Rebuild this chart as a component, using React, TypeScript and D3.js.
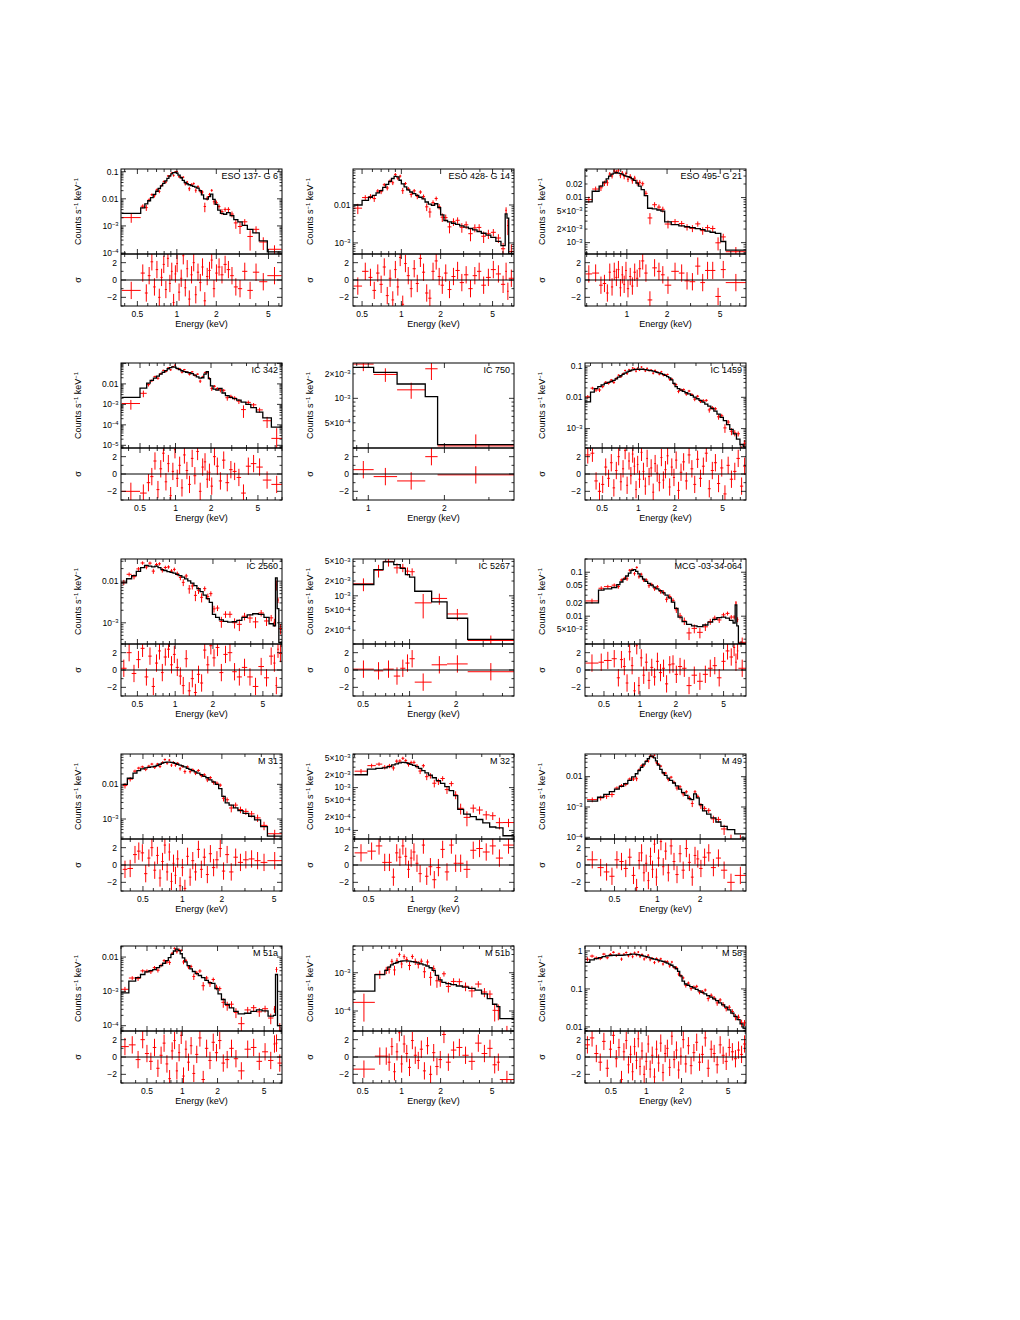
import React from 'react';
import * as d3 from 'd3';

// Spectra: bin edges (keV), folded model (counts/s/keV), residual (sigma), 1-sigma error (% of model)

// ESO 137-G6
const eso137Edges = [0.38, 0.53, 0.57, 0.60, 0.63, 0.66, 0.69, 0.72, 0.75, 0.78, 0.81, 0.84, 0.87, 0.90, 0.93, 0.96, 0.99, 1.02, 1.06, 1.10, 1.14, 1.18, 1.22, 1.27, 1.32, 1.37, 1.42, 1.48, 1.54, 1.60, 1.67, 1.74, 1.81, 1.88, 1.96, 2.05, 2.15, 2.27, 2.40, 2.55, 2.72, 2.92, 3.15, 3.45, 3.80, 4.25, 4.90, 6.30];
const eso137Model = [2.9e-3, 4.6e-3, 6.5e-3, 8.5e-3, 0.011, 0.0145, 0.019, 0.024, 0.030, 0.037, 0.046, 0.057, 0.070, 0.083, 0.092, 0.094, 0.088, 0.075, 0.060, 0.048, 0.040, 0.036, 0.033, 0.031, 0.029, 0.027, 0.025, 0.020, 0.014, 0.010, 0.0098, 0.012, 0.015, 0.0095, 6.2e-3, 3.8e-3, 2.9e-3, 2.7e-3, 3.1e-3, 2.4e-3, 1.7e-3, 1.4e-3, 1.05e-3, 7.5e-4, 5.5e-4, 2.8e-4, 1.1e-4];
const eso137Resid = [-1.2, 0.8, -1.5, 0.5, 2.1, -0.8, 1.2, -2.0, 0.3, 1.8, -1.1, 2.5, -0.4, 1.0, -2.6, 0.7, 1.9, -1.4, 0.2, 2.8, -0.9, 1.3, -2.2, 0.6, 2.0, -1.7, 0.9, -0.3, 1.5, -2.4, 0.4, 1.1, 2.3, -1.0, 0.8, 1.5, 0.6, 1.8, 1.2, 0.5, -0.8, -1.0, 1.0, -1.2, 0.9, -0.2, 0.5];
const eso137Err = [25, 20, 18, 15, 14, 13, 12, 11, 10, 10, 9, 9, 8, 8, 8, 8, 8, 9, 10, 11, 12, 12, 13, 13, 13, 14, 14, 15, 18, 20, 20, 18, 16, 18, 22, 25, 28, 28, 26, 28, 30, 32, 35, 38, 40, 45, 50];

// ESO 428-G14
const eso428Edges = [0.43, 0.50, 0.56, 0.60, 0.64, 0.68, 0.72, 0.76, 0.80, 0.84, 0.88, 0.92, 0.96, 1.00, 1.05, 1.10, 1.16, 1.22, 1.29, 1.36, 1.44, 1.52, 1.61, 1.70, 1.80, 1.90, 2.00, 2.12, 2.26, 2.42, 2.60, 2.80, 3.02, 3.26, 3.52, 3.80, 4.10, 4.45, 4.85, 5.30, 5.80, 6.25, 6.45, 6.65, 7.30];
const eso428Model = [0.010, 0.0133, 0.016, 0.018, 0.021, 0.024, 0.029, 0.035, 0.042, 0.050, 0.057, 0.055, 0.045, 0.036, 0.030, 0.025, 0.022, 0.020, 0.018, 0.016, 0.0145, 0.012, 0.0105, 0.0098, 0.0108, 0.0085, 5.5e-3, 3.9e-3, 3.6e-3, 3.3e-3, 3.1e-3, 2.8e-3, 2.6e-3, 2.4e-3, 2.2e-3, 2.0e-3, 1.8e-3, 1.6e-3, 1.4e-3, 1.1e-3, 8.5e-4, 5.8e-3, 4.5e-3, 5.3e-4];
const eso428Resid = [-0.7, 1.0, 0.3, -1.2, 0.8, -0.5, 1.5, -1.8, 0.2, -2.3, 1.2, -0.8, 2.6, -2.8, 1.9, 0.5, -1.0, 1.3, -0.4, 2.5, 0.9, -1.5, -2.1, 1.0, 2.2, 0.4, -0.6, 0.8, -1.1, 0.4, 1.1, -0.3, 0.6, -1.0, 0.5, 1.0, -0.6, 0.3, 1.2, 0.7, -0.5, 1.0, -1.3, 0.2];
const eso428Err = [25, 18, 16, 15, 14, 13, 12, 11, 11, 10, 10, 10, 11, 12, 12, 13, 14, 14, 15, 15, 16, 17, 18, 18, 17, 18, 22, 24, 24, 25, 25, 26, 26, 27, 27, 28, 28, 30, 30, 32, 35, 25, 28, 60];

// ESO 495-G21
const eso495Edges = [0.49, 0.55, 0.62, 0.66, 0.70, 0.73, 0.76, 0.79, 0.82, 0.85, 0.88, 0.91, 0.94, 0.97, 1.00, 1.04, 1.08, 1.12, 1.17, 1.22, 1.28, 1.35, 1.43, 1.55, 1.68, 1.80, 1.92, 2.15, 2.45, 2.70, 2.95, 3.25, 3.55, 3.85, 4.20, 4.60, 5.05, 5.50, 7.80];
const eso495Model = [8.0e-3, 0.0138, 0.018, 0.022, 0.026, 0.030, 0.033, 0.035, 0.036, 0.035, 0.034, 0.033, 0.031, 0.030, 0.029, 0.028, 0.026, 0.024, 0.021, 0.018, 0.015, 0.011, 5.8e-3, 5.6e-3, 5.3e-3, 5.0e-3, 2.9e-3, 2.5e-3, 2.35e-3, 2.25e-3, 2.15e-3, 2.05e-3, 1.95e-3, 1.8e-3, 1.7e-3, 1.6e-3, 1.06e-3, 6.8e-4];
const eso495Resid = [0.7, 0.8, -0.6, -0.4, -1.5, 0.9, -0.8, 1.0, 0.3, 1.2, -0.9, 0.6, -0.5, 1.1, -1.0, 0.4, -0.7, 0.9, 0.2, 1.3, 2.2, 0.8, -2.3, 1.4, 1.0, 0.6, -0.6, 1.0, 0.8, -0.1, -0.2, 1.6, -0.3, 1.1, 1.1, -1.9, 1.2, -0.3];
const eso495Err = [18, 15, 14, 13, 12, 12, 11, 11, 11, 11, 11, 11, 12, 12, 12, 13, 13, 14, 15, 16, 16, 16, 17, 17, 16, 16, 18, 17, 16, 16, 17, 17, 18, 18, 19, 20, 22, 25];

// IC 342
const ic342Edges = [0.35, 0.50, 0.57, 0.61, 0.65, 0.69, 0.73, 0.77, 0.81, 0.85, 0.89, 0.93, 0.97, 1.01, 1.06, 1.11, 1.16, 1.22, 1.28, 1.35, 1.42, 1.50, 1.58, 1.66, 1.74, 1.82, 1.90, 1.98, 2.08, 2.20, 2.33, 2.48, 2.65, 2.85, 3.05, 3.30, 3.60, 3.95, 4.35, 4.85, 5.50, 6.50, 8.00];
const ic342Model = [2.2e-3, 6.2e-3, 0.011, 0.015, 0.019, 0.024, 0.030, 0.037, 0.045, 0.055, 0.063, 0.068, 0.066, 0.058, 0.050, 0.044, 0.040, 0.037, 0.035, 0.032, 0.027, 0.022, 0.019, 0.020, 0.030, 0.040, 0.018, 8.0e-3, 5.5e-3, 5.0e-3, 6.0e-3, 3.6e-3, 2.7e-3, 2.2e-3, 1.9e-3, 1.6e-3, 1.3e-3, 1.0e-3, 7.0e-4, 4.2e-4, 2.2e-4, 7.8e-5];
const ic342Resid = [-2.0, -2.2, -1.0, -0.3, 1.5, -1.8, 0.6, 2.4, -0.9, 1.2, -2.5, 0.3, 2.8, -0.5, 1.0, -1.6, 2.2, 0.4, -1.2, 1.8, -0.2, 2.6, -2.0, 0.8, 1.4, -0.6, 0.2, -1.4, 2.0, 0.9, -0.8, 1.6, -1.0, 0.5, 0.3, -0.4, -2.2, 0.9, 1.2, 0.8, -0.7, -1.2];
const ic342Err = [25, 20, 16, 14, 13, 12, 11, 10, 10, 9, 9, 9, 9, 9, 10, 10, 11, 11, 12, 12, 13, 14, 14, 14, 13, 12, 15, 18, 20, 20, 20, 22, 22, 23, 24, 25, 26, 28, 30, 35, 40, 60];

// IC 750
const ic750Edges = [0.87, 1.05, 1.30, 1.68, 1.88, 3.77];
const ic750Model = [2.4e-3, 2.08e-3, 1.5e-3, 1.05e-3, 2.7e-4];
const ic750Resid = [0.5, -0.3, -0.8, 2.0, -0.1];
const ic750Err = [20, 18, 19, 60, 37];

// IC 1459
const ic1459Edges = [0.36, 0.40, 0.43, 0.46, 0.49, 0.52, 0.55, 0.58, 0.61, 0.64, 0.67, 0.70, 0.73, 0.76, 0.79, 0.82, 0.85, 0.88, 0.91, 0.94, 0.97, 1.00, 1.04, 1.08, 1.12, 1.16, 1.20, 1.25, 1.30, 1.35, 1.40, 1.46, 1.52, 1.58, 1.64, 1.71, 1.78, 1.85, 1.93, 2.01, 2.10, 2.20, 2.31, 2.43, 2.56, 2.70, 2.85, 3.01, 3.18, 3.36, 3.55, 3.76, 3.98, 4.22, 4.48, 4.76, 5.06, 5.38, 5.72, 6.10, 6.50, 6.95, 7.40, 7.80];
const ic1459Model = [7.2e-3, 0.0147, 0.019, 0.022, 0.025, 0.028, 0.030, 0.032, 0.035, 0.039, 0.044, 0.049, 0.054, 0.059, 0.064, 0.068, 0.072, 0.075, 0.077, 0.078, 0.079, 0.079, 0.079, 0.078, 0.077, 0.075, 0.073, 0.071, 0.069, 0.066, 0.063, 0.060, 0.057, 0.054, 0.050, 0.046, 0.042, 0.036, 0.028, 0.022, 0.019, 0.017, 0.0155, 0.014, 0.0128, 0.0115, 0.0102, 9.0e-3, 8.0e-3, 7.0e-3, 6.1e-3, 5.2e-3, 4.4e-3, 3.6e-3, 2.9e-3, 2.3e-3, 1.8e-3, 1.35e-3, 9.5e-4, 6.8e-4, 4.6e-4, 3.1e-4, 2.6e-4];
const ic1459Resid = [2.2, 2.4, -0.8, -2.0, -1.2, 0.8, -0.5, 1.3, -1.6, 0.4, 2.0, -0.9, 0.6, 2.7, -1.3, 1.5, -0.2, 2.3, 0.9, -1.8, 1.1, -0.6, 2.5, 0.3, -1.4, 1.8, -0.3, 0.7, -2.1, 1.2, 0.1, -1.0, 1.9, -0.7, 0.5, 2.1, -1.5, 0.8, -0.4, 1.6, -1.9, 0.2, 1.4, -0.8, 2.2, 0.6, -1.2, 1.7, -0.5, 0.9, 2.4, -1.7, 0.4, 1.3, -1.1, 0.7, -2.3, 1.0, -0.6, 0.3, 1.8, -1.4, 0.9];
const ic1459Err = [20, 14, 12, 11, 10, 10, 10, 9, 9, 9, 8, 8, 8, 8, 8, 8, 7, 7, 7, 7, 7, 7, 7, 7, 7, 7, 7, 7, 7, 8, 8, 8, 8, 8, 8, 8, 8, 9, 9, 10, 10, 10, 10, 11, 11, 11, 12, 12, 12, 13, 13, 14, 14, 15, 16, 17, 18, 20, 22, 24, 27, 30, 35];

// IC 2560
const ic2560Edges = [0.37, 0.41, 0.45, 0.49, 0.53, 0.57, 0.61, 0.65, 0.69, 0.73, 0.77, 0.81, 0.86, 0.91, 0.96, 1.01, 1.07, 1.13, 1.19, 1.26, 1.33, 1.41, 1.49, 1.58, 1.67, 1.77, 1.87, 1.98, 2.10, 2.25, 2.42, 2.62, 2.85, 3.10, 3.40, 3.75, 4.15, 4.60, 5.10, 5.60, 6.05, 6.30, 6.50, 6.70, 7.10];
const ic2560Model = [9.1e-3, 0.0114, 0.0135, 0.0172, 0.021, 0.024, 0.023, 0.022, 0.023, 0.021, 0.019, 0.018, 0.017, 0.0163, 0.0155, 0.0145, 0.0135, 0.0125, 0.0113, 0.0102, 9.0e-3, 7.8e-3, 6.6e-3, 5.6e-3, 4.6e-3, 3.8e-3, 3.1e-3, 1.6e-3, 1.35e-3, 1.17e-3, 1.08e-3, 1.04e-3, 1.06e-3, 1.15e-3, 1.35e-3, 1.55e-3, 1.65e-3, 1.6e-3, 1.35e-3, 9.5e-4, 8.5e-4, 0.012, 2.2e-3, 3.4e-4];
const ic2560Resid = [0.2, 2.0, -0.4, 1.2, 2.5, -0.8, 1.6, -1.9, 0.8, 2.2, -0.3, 1.5, 2.4, 0.6, 1.8, 0.3, -0.7, -1.8, 1.3, -2.4, -1.0, -2.6, -0.5, -1.5, 2.3, 0.6, 2.8, 1.4, 2.6, -0.3, 1.8, 2.0, -0.2, -0.8, 0.3, -0.8, -1.9, 0.4, -0.9, 1.6, 0.8, -1.8, 2.4, 1.9];
const ic2560Err = [15, 14, 13, 12, 12, 11, 11, 11, 11, 11, 12, 12, 12, 12, 13, 13, 13, 14, 14, 15, 15, 16, 17, 18, 19, 20, 22, 25, 26, 27, 27, 27, 26, 25, 22, 20, 19, 19, 20, 24, 26, 18, 25, 60];

// IC 5267
const ic5267Edges = [0.43, 0.587, 0.675, 0.79, 0.87, 0.94, 1.0, 1.08, 1.39, 1.75, 2.38, 4.75];
const ic5267Model = [1.7e-3, 3.4e-3, 4.9e-3, 4.3e-3, 3.6e-3, 2.7e-3, 2.4e-3, 1.24e-3, 7.5e-4, 3.5e-4, 1.3e-4];
const ic5267Resid = [0.1, -0.1, 0.1, -0.7, 0.2, 0.8, 1.3, -1.4, 0.6, 0.7, -0.2];
const ic5267Err = [30, 28, 22, 20, 20, 22, 22, 30, 30, 32, 25];

// MCG -03-34-064
const mcgEdges = [0.35, 0.45, 0.50, 0.58, 0.64, 0.68, 0.72, 0.76, 0.80, 0.84, 0.88, 0.92, 0.96, 1.00, 1.05, 1.10, 1.16, 1.22, 1.29, 1.36, 1.44, 1.53, 1.62, 1.72, 1.83, 1.95, 2.08, 2.25, 2.45, 2.70, 3.00, 3.35, 3.70, 4.05, 4.40, 4.80, 5.20, 5.60, 6.00, 6.25, 6.45, 6.65, 7.70];
const mcgModel = [0.020, 0.039, 0.042, 0.045, 0.052, 0.060, 0.070, 0.082, 0.095, 0.110, 0.115, 0.105, 0.092, 0.080, 0.070, 0.062, 0.056, 0.051, 0.046, 0.042, 0.038, 0.034, 0.030, 0.026, 0.021, 0.015, 9.5e-3, 7.5e-3, 6.5e-3, 6.0e-3, 5.8e-3, 6.3e-3, 7.3e-3, 8.5e-3, 9.3e-3, 9.5e-3, 9.0e-3, 8.0e-3, 7.0e-3, 0.018, 6.0e-3, 2.4e-3];
const mcgResid = [0.8, 0.9, 1.1, 1.3, -0.9, 1.2, 0.4, -1.5, 2.1, 0.5, -2.4, 2.8, -1.8, 1.4, -0.6, 0.9, -1.2, 0.3, -0.8, 1.0, -0.3, 0.2, -1.6, 0.6, 0.7, -0.5, 0.4, 0.2, -1.8, -0.6, -1.3, -0.5, 0.2, 0.5, -0.9, 1.0, 2.2, 1.5, 2.6, 0.9, 2.2, 0.2];
const mcgErr = [14, 12, 11, 10, 10, 9, 9, 9, 8, 8, 8, 8, 8, 9, 9, 9, 10, 10, 10, 11, 11, 12, 12, 13, 13, 14, 18, 20, 20, 20, 20, 18, 16, 14, 13, 13, 13, 13, 14, 12, 18, 30];

// M 31
const m31Edges = [0.35, 0.38, 0.42, 0.45, 0.48, 0.51, 0.54, 0.57, 0.60, 0.63, 0.66, 0.69, 0.72, 0.75, 0.78, 0.81, 0.84, 0.87, 0.90, 0.94, 0.98, 1.02, 1.07, 1.12, 1.17, 1.23, 1.29, 1.36, 1.43, 1.51, 1.59, 1.68, 1.78, 1.89, 2.00, 2.12, 2.27, 2.45, 2.65, 2.90, 3.20, 3.55, 3.95, 4.45, 5.75];
const m31Model = [0.0100, 0.0150, 0.021, 0.025, 0.028, 0.030, 0.031, 0.032, 0.033, 0.035, 0.038, 0.041, 0.043, 0.044, 0.044, 0.043, 0.042, 0.040, 0.038, 0.036, 0.034, 0.032, 0.029, 0.027, 0.025, 0.023, 0.021, 0.019, 0.017, 0.0155, 0.0135, 0.0118, 0.0100, 7.5e-3, 4.5e-3, 2.9e-3, 2.5e-3, 2.1e-3, 1.75e-3, 1.45e-3, 1.2e-3, 9.5e-4, 6.0e-4, 3.2e-4];
const m31Resid = [-0.5, -0.4, 1.2, 1.6, 1.4, -1.0, 0.8, 2.0, -0.6, 1.1, -1.5, 0.4, 2.3, -0.8, 1.5, -1.9, 0.2, -1.2, 0.7, -2.4, -0.3, -2.7, 1.0, -1.4, 0.5, -0.8, 1.8, -0.5, 0.9, -1.1, 1.3, -0.3, 0.6, 1.9, -0.7, 1.2, -0.8, 0.9, 0.3, 0.6, 0.7, 0.5, 0.3, 0.5];
const m31Err = [16, 14, 12, 11, 10, 10, 10, 10, 10, 9, 9, 9, 9, 9, 9, 9, 9, 9, 9, 9, 9, 10, 10, 10, 10, 11, 11, 11, 12, 12, 12, 13, 13, 14, 17, 20, 21, 22, 23, 24, 25, 27, 30, 35];

// M 32
const m32Edges = [0.40, 0.49, 0.56, 0.62, 0.67, 0.72, 0.76, 0.80, 0.84, 0.88, 0.92, 0.96, 1.00, 1.05, 1.10, 1.16, 1.22, 1.29, 1.37, 1.46, 1.56, 1.67, 1.79, 1.92, 2.05, 2.25, 2.50, 2.75, 3.05, 3.40, 3.75, 4.20, 5.00];
const m32Model = [2.0e-3, 2.7e-3, 2.8e-3, 2.9e-3, 3.1e-3, 3.4e-3, 3.6e-3, 3.8e-3, 3.9e-3, 3.85e-3, 3.7e-3, 3.5e-3, 3.3e-3, 3.1e-3, 2.8e-3, 2.5e-3, 2.2e-3, 1.95e-3, 1.7e-3, 1.45e-3, 1.25e-3, 1.05e-3, 8.5e-4, 6.5e-4, 3.1e-4, 2.4e-4, 2.1e-4, 1.8e-4, 1.5e-4, 1.2e-4, 1.15e-4, 7.5e-5];
const m32Resid = [1.4, 1.6, 2.2, 0.3, 0.3, -1.4, 1.4, 0.9, 2.2, 1.0, -0.5, 0.8, 1.5, 0.2, -1.0, 2.3, -1.3, -0.2, -1.7, -0.3, 1.8, -0.8, 2.3, 0.2, 0.2, -0.5, 1.7, 1.9, 1.5, 2.2, 0.8, 2.3];
const m32Err = [15, 13, 12, 12, 12, 11, 11, 11, 11, 11, 11, 12, 12, 12, 13, 13, 14, 14, 15, 16, 17, 18, 20, 22, 30, 32, 34, 35, 36, 38, 40, 45];

// M 49
const m49Edges = [0.32, 0.38, 0.42, 0.46, 0.50, 0.54, 0.58, 0.62, 0.66, 0.70, 0.73, 0.76, 0.79, 0.82, 0.85, 0.88, 0.91, 0.94, 0.97, 1.00, 1.04, 1.08, 1.12, 1.17, 1.22, 1.28, 1.34, 1.41, 1.48, 1.56, 1.64, 1.72, 1.80, 1.88, 1.97, 2.08, 2.22, 2.38, 2.58, 2.80, 3.10, 3.50, 4.20];
const m49Model = [1.56e-3, 2.1e-3, 2.6e-3, 3.2e-3, 3.9e-3, 4.8e-3, 5.9e-3, 7.5e-3, 9.8e-3, 0.0125, 0.0160, 0.0205, 0.026, 0.032, 0.039, 0.046, 0.048, 0.042, 0.033, 0.024, 0.0175, 0.0135, 0.0110, 9.0e-3, 7.5e-3, 6.2e-3, 5.0e-3, 3.9e-3, 3.0e-3, 2.4e-3, 1.9e-3, 1.75e-3, 2.7e-3, 2.0e-3, 1.2e-3, 7.5e-4, 5.8e-4, 4.4e-4, 3.2e-4, 2.3e-4, 1.8e-4, 1.3e-4];
const m49Resid = [0.6, -0.3, -0.8, -1.3, 0.6, 0.4, -0.4, 0.9, -1.2, -2.6, 0.5, 1.4, -0.9, 0.2, -1.8, 1.0, -0.5, 2.4, -1.4, 0.8, 2.7, -0.2, 1.6, -0.9, 2.2, 0.4, -1.1, 1.3, -0.6, 1.9, 0.3, -1.4, 1.1, 0.7, -0.4, 0.9, 1.4, -0.3, 0.8, -0.6, -2.0, -1.2];
const m49Err = [20, 17, 16, 15, 14, 14, 13, 13, 12, 12, 11, 10, 10, 9, 9, 9, 9, 9, 9, 10, 10, 11, 12, 12, 13, 13, 14, 15, 16, 17, 18, 18, 16, 17, 20, 22, 24, 25, 27, 30, 32, 35];

// M 51a
const m51aEdges = [0.30, 0.35, 0.40, 0.44, 0.48, 0.52, 0.56, 0.60, 0.64, 0.68, 0.72, 0.76, 0.80, 0.84, 0.88, 0.92, 0.96, 1.00, 1.05, 1.10, 1.16, 1.22, 1.29, 1.37, 1.46, 1.56, 1.67, 1.78, 1.90, 2.02, 2.16, 2.32, 2.52, 2.75, 3.00, 3.40, 3.85, 4.30, 4.80, 5.40, 6.00, 6.25, 6.50, 7.10];
const m51aModel = [9.1e-4, 2.0e-3, 2.5e-3, 3.1e-3, 3.7e-3, 4.0e-3, 4.3e-3, 4.9e-3, 5.6e-3, 6.6e-3, 7.9e-3, 9.6e-3, 0.0120, 0.0150, 0.0170, 0.0155, 0.0125, 9.5e-3, 7.2e-3, 5.6e-3, 4.5e-3, 3.8e-3, 3.3e-3, 2.9e-3, 2.5e-3, 2.1e-3, 1.8e-3, 1.7e-3, 1.2e-3, 8.5e-4, 5.8e-4, 4.2e-4, 3.3e-4, 2.6e-4, 2.2e-4, 2.3e-4, 2.6e-4, 2.9e-4, 2.7e-4, 1.9e-4, 2.0e-4, 3.1e-3, 1.0e-4];
const m51aResid = [1.2, 1.4, -0.3, 2.0, 0.4, -0.5, 1.1, -1.3, 0.2, 1.6, -0.8, -2.5, 0.7, 1.9, -1.6, 0.5, 2.5, -2.2, 0.9, -0.6, 1.3, -1.9, 0.3, 2.2, -2.6, 1.0, -0.4, 1.7, 0.5, 1.9, -0.7, -0.3, 1.0, -0.2, -1.6, 0.9, 1.1, -0.5, 0.6, -0.4, 1.5, 1.6, -0.7];
const m51aErr = [22, 16, 15, 14, 13, 13, 13, 12, 12, 12, 11, 11, 10, 10, 10, 10, 10, 11, 12, 13, 14, 15, 15, 16, 16, 17, 18, 18, 20, 22, 25, 27, 28, 30, 30, 28, 26, 25, 26, 30, 35, 25, 60];

// M 51b
const m51bEdges = [0.42, 0.62, 0.74, 0.78, 0.82, 0.86, 0.90, 0.94, 0.98, 1.02, 1.07, 1.12, 1.18, 1.24, 1.31, 1.38, 1.46, 1.54, 1.63, 1.72, 1.82, 1.93, 2.05, 2.20, 2.40, 2.65, 2.95, 3.30, 3.70, 4.15, 4.60, 5.05, 5.45, 5.75, 7.40];
const m51bModel = [3.3e-4, 8.9e-4, 1.15e-3, 1.4e-3, 1.6e-3, 1.75e-3, 1.85e-3, 1.95e-3, 2.0e-3, 2.05e-3, 2.05e-3, 2.0e-3, 1.95e-3, 1.9e-3, 1.8e-3, 1.7e-3, 1.6e-3, 1.5e-3, 1.35e-3, 1.15e-3, 8.5e-4, 6.5e-4, 5.6e-4, 5.2e-4, 4.9e-4, 4.5e-4, 4.2e-4, 3.9e-4, 3.5e-4, 2.8e-4, 2.1e-4, 1.5e-4, 1.3e-4, 6.3e-5];
const m51bResid = [-1.4, 0.1, 0.1, -0.6, 1.2, -1.7, 0.6, 2.8, -0.8, 1.5, 0.4, -1.2, 1.9, 0.2, -0.4, 0.9, -1.6, 1.3, -2.0, 0.5, -1.1, -0.3, 2.6, -0.6, 0.8, 1.1, 0.2, -0.5, 1.6, 0.4, 1.0, -0.9, -0.6, -2.6];
const m51bErr = [35, 25, 22, 20, 20, 19, 19, 19, 19, 19, 19, 19, 19, 20, 20, 20, 21, 21, 22, 23, 25, 26, 26, 26, 26, 27, 27, 28, 28, 30, 32, 34, 35, 22];

// M 58
const m58Edges = [0.30, 0.33, 0.36, 0.39, 0.42, 0.45, 0.48, 0.51, 0.54, 0.57, 0.60, 0.63, 0.66, 0.69, 0.72, 0.75, 0.78, 0.81, 0.84, 0.87, 0.90, 0.94, 0.98, 1.02, 1.06, 1.10, 1.15, 1.20, 1.25, 1.30, 1.36, 1.42, 1.48, 1.55, 1.62, 1.69, 1.77, 1.85, 1.93, 2.02, 2.12, 2.23, 2.35, 2.48, 2.62, 2.77, 2.93, 3.10, 3.28, 3.48, 3.69, 3.91, 4.15, 4.40, 4.67, 4.96, 5.27, 5.60, 5.95, 6.32, 6.70, 7.10];
const m58Model = [0.50, 0.58, 0.63, 0.67, 0.71, 0.74, 0.76, 0.77, 0.77, 0.77, 0.77, 0.78, 0.79, 0.80, 0.81, 0.82, 0.82, 0.81, 0.80, 0.78, 0.76, 0.73, 0.71, 0.69, 0.66, 0.63, 0.61, 0.59, 0.57, 0.55, 0.53, 0.51, 0.48, 0.45, 0.42, 0.38, 0.34, 0.29, 0.22, 0.16, 0.135, 0.125, 0.115, 0.106, 0.097, 0.089, 0.081, 0.074, 0.067, 0.061, 0.055, 0.049, 0.043, 0.038, 0.033, 0.028, 0.023, 0.019, 0.0155, 0.012, 9.3e-3];
const m58Resid = [1.4, 2.2, 0.4, -0.6, 1.8, -1.3, 0.9, 2.5, -0.2, 1.1, -2.6, 0.6, 1.9, -0.9, 0.3, -1.7, 1.2, -0.4, 2.1, -1.1, 0.7, -2.0, -0.5, 1.5, -1.4, 0.2, -2.3, 0.9, -0.7, 1.6, -1.8, 0.4, 1.0, -1.2, 2.4, -0.3, 0.8, -1.5, 0.1, 2.0, -0.8, 1.3, -1.0, 0.5, 1.7, -0.6, 0.3, 2.2, -1.3, 0.9, 0.4, -0.9, 1.4, 0.2, -0.5, 1.1, 0.6, -0.2, 0.8, 0.3, 1.5];
const m58Err = [15, 12, 10, 9, 9, 8, 8, 8, 8, 8, 8, 8, 8, 8, 8, 8, 8, 8, 8, 8, 8, 8, 8, 8, 8, 8, 8, 8, 8, 8, 8, 8, 9, 9, 9, 9, 9, 10, 10, 11, 11, 11, 11, 11, 12, 12, 12, 12, 13, 13, 13, 14, 14, 15, 15, 16, 17, 18, 20, 22, 25];

const panels = [
  { name: 'ESO 137- G 6', col: 0, row: 0, edges: eso137Edges, model: eso137Model, resid: eso137Resid, err: eso137Err, xDomain: [0.375, 6.34], yDomain: [9.2e-5, 0.126], yLabels: [0.1, 0.01, 1e-3, 1e-4], xLabels: [0.5, 1, 2, 5] },
  { name: 'ESO 428- G 14', col: 1, row: 0, edges: eso428Edges, model: eso428Model, resid: eso428Resid, err: eso428Err, xDomain: [0.426, 7.3], yDomain: [5.1e-4, 0.089], yLabels: [0.01, 1e-3], xLabels: [0.5, 1, 2, 5] },
  { name: 'ESO 495- G 21', col: 2, row: 0, edges: eso495Edges, model: eso495Model, resid: eso495Resid, err: eso495Err, xDomain: [0.486, 7.8], yDomain: [5.6e-4, 0.043], yLabels: [0.02, 0.01, 5e-3, 2e-3, 1e-3], xLabels: [1, 2, 5] },
  { name: 'IC 342', col: 0, row: 1, edges: ic342Edges, model: ic342Model, resid: ic342Resid, err: ic342Err, xDomain: [0.345, 8.0], yDomain: [7.4e-6, 0.105], yLabels: [0.01, 1e-3, 1e-4, 1e-5], xLabels: [0.5, 1, 2, 5] },
  { name: 'IC 750', col: 1, row: 1, edges: ic750Edges, model: ic750Model, resid: ic750Resid, err: ic750Err, xDomain: [0.87, 3.77], yDomain: [2.45e-4, 2.72e-3], yLabels: [2e-3, 1e-3, 5e-4], xLabels: [1, 2] },
  { name: 'IC 1459', col: 2, row: 1, edges: ic1459Edges, model: ic1459Model, resid: ic1459Resid, err: ic1459Err, xDomain: [0.36, 7.8], yDomain: [2.4e-4, 0.125], yLabels: [0.1, 0.01, 1e-3], xLabels: [0.5, 1, 2, 5] },
  { name: 'IC 2560', col: 0, row: 2, edges: ic2560Edges, model: ic2560Model, resid: ic2560Resid, err: ic2560Err, xDomain: [0.37, 7.1], yDomain: [3.1e-4, 0.034], yLabels: [0.01, 1e-3], xLabels: [0.5, 1, 2, 5] },
  { name: 'IC 5267', col: 1, row: 2, edges: ic5267Edges, model: ic5267Model, resid: ic5267Resid, err: ic5267Err, xDomain: [0.43, 4.75], yDomain: [1.05e-4, 5.6e-3], yLabels: [5e-3, 2e-3, 1e-3, 5e-4, 2e-4], xLabels: [0.5, 1, 2] },
  { name: 'MCG -03-34-064', col: 2, row: 2, edges: mcgEdges, model: mcgModel, resid: mcgResid, err: mcgErr, xDomain: [0.347, 7.7], yDomain: [2.33e-3, 0.2], yLabels: [0.1, 0.05, 0.02, 0.01, 5e-3], xLabels: [0.5, 1, 2, 5] },
  { name: 'M 31', col: 0, row: 3, edges: m31Edges, model: m31Model, resid: m31Resid, err: m31Err, xDomain: [0.34, 5.75], yDomain: [2.65e-4, 0.075], yLabels: [0.01, 1e-3], xLabels: [0.5, 1, 2, 5] },
  { name: 'M 32', col: 1, row: 3, edges: m32Edges, model: m32Model, resid: m32Resid, err: m32Err, xDomain: [0.39, 5.0], yDomain: [6.3e-5, 6.1e-3], yLabels: [5e-3, 2e-3, 1e-3, 5e-4, 2e-4, 1e-4], xLabels: [0.5, 1, 2] },
  { name: 'M 49', col: 2, row: 3, edges: m49Edges, model: m49Model, resid: m49Resid, err: m49Err, xDomain: [0.31, 4.2], yDomain: [8.8e-5, 0.056], yLabels: [0.01, 1e-3, 1e-4], xLabels: [0.5, 1, 2] },
  { name: 'M 51a', col: 0, row: 4, edges: m51aEdges, model: m51aModel, resid: m51aResid, err: m51aErr, xDomain: [0.3, 7.1], yDomain: [7e-5, 0.021], yLabels: [0.01, 1e-3, 1e-4], xLabels: [0.5, 1, 2, 5] },
  { name: 'M 51b', col: 1, row: 4, edges: m51bEdges, model: m51bModel, resid: m51bResid, err: m51bErr, xDomain: [0.42, 7.4], yDomain: [3e-5, 5e-3], yLabels: [1e-3, 1e-4], xLabels: [0.5, 1, 2, 5] },
  { name: 'M 58', col: 2, row: 4, edges: m58Edges, model: m58Model, resid: m58Resid, err: m58Err, xDomain: [0.3, 7.1], yDomain: [7.8e-3, 1.35], yLabels: [1, 0.1, 0.01], xLabels: [0.5, 1, 2, 5] },
];

const residLabels = [2, 0, -2];

// layout
const COL_X = [121, 353, 585];
const ROW_Y = [169, 363, 559, 754, 946];
const W = 161;
const SPEC_H = 85;
const RES_H = 52;
const FONT = '"Liberation Sans", Arial, Helvetica, sans-serif';
const RED = '#ff0000';

function logTicks(lo: number, hi: number) {
  const out: number[] = [];
  for (let k = Math.floor(Math.log10(lo)); k <= Math.floor(Math.log10(hi)); k++) {
    for (let m = 1; m <= 9; m++) {
      const v = +(m * Math.pow(10, k)).toPrecision(6);
      if (v >= lo && v <= hi) out.push(v);
    }
  }
  return out;
}

const isPow10 = (v: number) => Math.abs(Math.log10(v) - Math.round(Math.log10(v))) < 1e-6;

function fmtY(v: number): [string, string | null] {
  if (v >= 0.01) return [String(v), null];
  const e = Math.floor(Math.log10(v) + 1e-9);
  const m = Math.round(v / Math.pow(10, e));
  return [m === 1 ? '10' : `${m}\u00d710`, `\u2212${-e}`];
}

function Panel({ p, idx }: { p: any; idx: number }) {
  const x0 = COL_X[p.col];
  const y0 = ROW_Y[p.row];
  const yMid = y0 + SPEC_H;
  const yb = yMid + RES_H;

  const x = d3.scaleLog().domain(p.xDomain).range([x0, x0 + W]);
  const y = d3.scaleLog().domain(p.yDomain).range([yMid, y0]);
  const r = d3.scaleLinear().domain([-3, 3]).range([yb, yMid]);

  const n = Math.min(p.edges.length - 1, p.model.length, p.resid.length, p.err.length);
  const bins = d3.range(n).map((i) => {
    const lo = p.edges[i];
    const hi = p.edges[i + 1];
    const m = p.model[i];
    const s = (m * p.err[i]) / 100;
    const d = m + p.resid[i] * s;
    return { lo, hi, c: Math.sqrt(lo * hi), m, d, s, r: p.resid[i] };
  });
  const yy = (v: number) => (v > 0 ? y(v) : yMid + 30);

  const stepPts: [number, number][] = bins.map((b) => [b.lo, b.m] as [number, number]);
  stepPts.push([bins[n - 1].hi, bins[n - 1].m]);
  const line = d3
    .line<[number, number]>()
    .x((d) => x(d[0]))
    .y((d) => y(d[1]))
    .curve(d3.curveStepAfter);

  const xt = logTicks(p.xDomain[0], p.xDomain[1]);
  const yt = logTicks(p.yDomain[0], p.yDomain[1]);
  const rt = d3.range(-3, 4);
  const isXMajor = (v: number) => p.xLabels.some((t: number) => Math.abs(t - v) / t < 1e-6);

  const spId = `sp${idx}`;
  const rsId = `rs${idx}`;

  return (
    <g>
      <defs>
        <clipPath id={spId}>
          <rect x={x0} y={y0} width={W} height={SPEC_H} />
        </clipPath>
        <clipPath id={rsId}>
          <rect x={x0} y={yMid} width={W} height={RES_H} />
        </clipPath>
      </defs>

      {/* spectrum data */}
      <g clipPath={`url(#${spId})`} stroke={RED} strokeWidth={1}>
        {bins.map((b, i) => (
          <g key={i}>
            <line x1={x(b.lo)} x2={x(b.hi)} y1={yy(b.d)} y2={yy(b.d)} />
            <line x1={x(b.c)} x2={x(b.c)} y1={yy(b.d - b.s)} y2={yy(b.d + b.s)} />
          </g>
        ))}
      </g>
      <g clipPath={`url(#${spId})`}>
        <path d={line(stepPts) || ''} fill="none" stroke="#000" strokeWidth={1.3} />
      </g>

      {/* residuals */}
      <g clipPath={`url(#${rsId})`} stroke={RED} strokeWidth={1}>
        {bins.map((b, i) => (
          <g key={i}>
            <line x1={x(b.lo)} x2={x(b.hi)} y1={r(b.r)} y2={r(b.r)} />
            <line x1={x(b.c)} x2={x(b.c)} y1={r(b.r - 1)} y2={r(b.r + 1)} />
          </g>
        ))}
      </g>
      <line x1={x0} x2={x0 + W} y1={r(0)} y2={r(0)} stroke="#000" strokeWidth={1} />

      {/* frame */}
      <rect x={x0} y={y0} width={W} height={SPEC_H + RES_H} fill="none" stroke="#000" strokeWidth={1} />
      <line x1={x0} x2={x0 + W} y1={yMid} y2={yMid} stroke="#000" strokeWidth={1.6} />

      {/* ticks */}
      <g stroke="#000" strokeWidth={0.8}>
        {xt.map((v, i) => {
          const px = x(v);
          const len = isXMajor(v) ? 5 : 3;
          return (
            <g key={`x${i}`}>
              <line x1={px} x2={px} y1={y0} y2={y0 + len} />
              <line x1={px} x2={px} y1={yMid - len} y2={yMid + len} />
              <line x1={px} x2={px} y1={yb} y2={yb - len} />
            </g>
          );
        })}
        {yt.map((v, i) => {
          const py = y(v);
          const len = isPow10(v) ? 5 : 2.5;
          return (
            <g key={`y${i}`}>
              <line x1={x0} x2={x0 + len} y1={py} y2={py} />
              <line x1={x0 + W} x2={x0 + W - len} y1={py} y2={py} />
            </g>
          );
        })}
        {rt.map((v) => {
          const py = r(v);
          const len = v % 2 === 0 ? 5 : 2.5;
          return (
            <g key={`r${v}`}>
              <line x1={x0} x2={x0 + len} y1={py} y2={py} />
              <line x1={x0 + W} x2={x0 + W - len} y1={py} y2={py} />
            </g>
          );
        })}
      </g>

      {/* tick labels */}
      <g fontFamily={FONT} fontSize={8.5} fill="#000">
        {p.yLabels.map((v: number, i: number) => {
          const [a, b] = fmtY(v);
          return (
            <text key={`yl${i}`} x={x0 - 2.5} y={y(v)} dy="0.33em" textAnchor="end">
              {a}
              {b && (
                <tspan dy="-0.45em" fontSize={5.8}>
                  {b}
                </tspan>
              )}
            </text>
          );
        })}
        {residLabels.map((v) => (
          <text key={`rl${v}`} x={x0 - 4} y={r(v)} dy="0.35em" textAnchor="end">
            {v < 0 ? `\u2212${-v}` : String(v)}
          </text>
        ))}
        {p.xLabels.map((v: number) => (
          <text key={`xl${v}`} x={x(v)} y={yb + 10.5} textAnchor="middle">
            {String(v)}
          </text>
        ))}
      </g>

      {/* titles */}
      <g fontFamily={FONT} fontSize={9} fill="#000">
        <text x={x0 + W / 2} y={yb + 21} textAnchor="middle">
          Energy (keV)
        </text>
        <text transform={`translate(${x0 - 40},${y0 + SPEC_H / 2}) rotate(-90)`} textAnchor="middle">
          Counts s<tspan dy={-3.2} fontSize={6}>{'\u22121'}</tspan>
          <tspan dy={3.2}> keV</tspan>
          <tspan dy={-3.2} fontSize={6}>{'\u22121'}</tspan>
        </text>
        <text transform={`translate(${x0 - 40},${yMid + RES_H / 2}) rotate(-90)`} textAnchor="middle">
          {'\u03c3'}
        </text>
        <text x={x0 + W - 4} y={y0 + 10} textAnchor="end">
          {p.name}
        </text>
      </g>
    </g>
  );
}

export default function App() {
  return (
    <svg
      width={1020}
      height={1320}
      viewBox="0 0 1020 1320"
      style={{ position: 'absolute', left: 0, top: 0, background: '#fff' }}
    >
      {panels.map((p, i) => (
        <Panel key={p.name} p={p} idx={i} />
      ))}
    </svg>
  );
}
